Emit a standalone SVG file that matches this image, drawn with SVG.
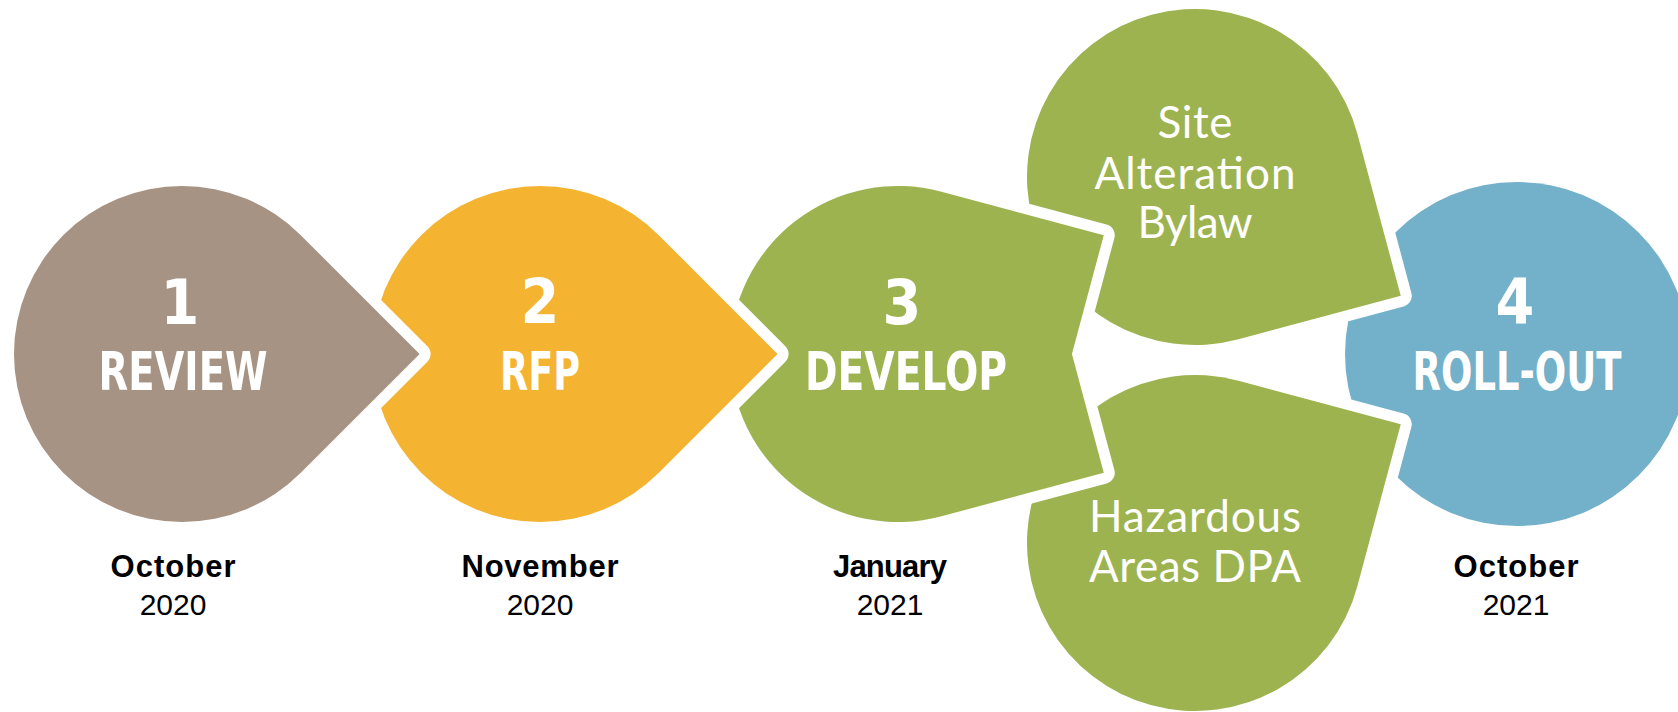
<svg xmlns="http://www.w3.org/2000/svg" width="1678" height="712" viewBox="0 0 1678 712">
<style>
.shape{stroke:#ffffff;stroke-width:22;stroke-linejoin:round;paint-order:stroke}
.brown{fill:#A69383}.orange{fill:#F5B332}.green{fill:#9DB350}.blue{fill:#73B0C9}
.num{font-family:"DejaVu Sans Condensed","DejaVu Sans",sans-serif;font-stretch:condensed;font-weight:bold;font-size:62px;fill:#fff;text-anchor:middle}
.word{font-family:"DejaVu Sans Condensed","DejaVu Sans",sans-serif;font-stretch:condensed;font-weight:bold;font-size:54px;fill:#fff;text-anchor:middle}
.sub{font-family:Lato,"Open Sans",sans-serif;font-size:44px;fill:#fff;text-anchor:middle}
.month{font-family:"Liberation Sans",Arial,sans-serif;font-weight:bold;font-size:31px;fill:#000;text-anchor:middle}
.year{font-family:"Liberation Sans",Arial,sans-serif;font-size:30px;fill:#000;text-anchor:middle}
</style>
<rect width="1678" height="712" fill="#ffffff"/>
<g id="node-rollout">
<circle class="blue" cx="1517" cy="354" r="172"/>
<text class="num" x="1515" y="323">4</text>
<text class="word" x="1517" y="390" textLength="209" lengthAdjust="spacingAndGlyphs">ROLL-OUT</text>
</g>
<g id="node-site-alteration">
<path class="shape green" d="M1357.28,133.52 L1400.76,295.80 L1238.48,339.28 A168 168 0 1 1 1357.28,133.52 Z"/>
<text class="sub" x="1195" y="138" textLength="75">Site</text>
<text class="sub" x="1195" y="189" textLength="201">Alteration</text>
<text class="sub" x="1195" y="238" textLength="115">Bylaw</text>
</g>
<g id="node-hazardous">
<path class="shape green" d="M1238.48,380.72 L1400.76,424.20 L1357.28,586.48 A168 168 0 1 1 1238.48,380.72 Z"/>
<text class="sub" x="1195" y="532" textLength="212">Hazardous</text>
<text class="sub" x="1195" y="582" textLength="212">Areas DPA</text>
</g>
<g id="node-develop">
<path class="shape green" d="M941.48,191.72 L1103.76,235.20 L1071.93,354 L1103.76,472.80 L941.48,516.28 A168 168 0 1 1 941.48,191.72 Z"/>
<text class="num" x="902" y="324">3</text>
<text class="word" x="906" y="390" textLength="202" lengthAdjust="spacingAndGlyphs">DEVELOP</text>
</g>
<g id="node-rfp">
<path class="shape orange" d="M658.79,235.21 L777.59,354 L658.79,472.79 A168 168 0 1 1 658.79,235.21 Z"/>
<text class="num" x="540" y="323">2</text>
<text class="word" x="540" y="390" textLength="80" lengthAdjust="spacingAndGlyphs">RFP</text>
</g>
<g id="node-review">
<path class="shape brown" d="M300.79,235.21 L419.59,354 L300.79,472.79 A168 168 0 1 1 300.79,235.21 Z"/>
<text class="num" x="180" y="324">1</text>
<text class="word" x="183" y="390" textLength="169" lengthAdjust="spacingAndGlyphs">REVIEW</text>
</g>
<g id="connectors"></g>
<g id="dates">
<text class="month" x="173" y="577" textLength="125">October</text>
<text class="year" x="173" y="615">2020</text>
<text class="month" x="540" y="577" textLength="157">November</text>
<text class="year" x="540" y="615">2020</text>
<text class="month" x="890" y="577" textLength="114">January</text>
<text class="year" x="890" y="615">2021</text>
<text class="month" x="1516" y="577" textLength="125">October</text>
<text class="year" x="1516" y="615">2021</text>
</g>
</svg>
